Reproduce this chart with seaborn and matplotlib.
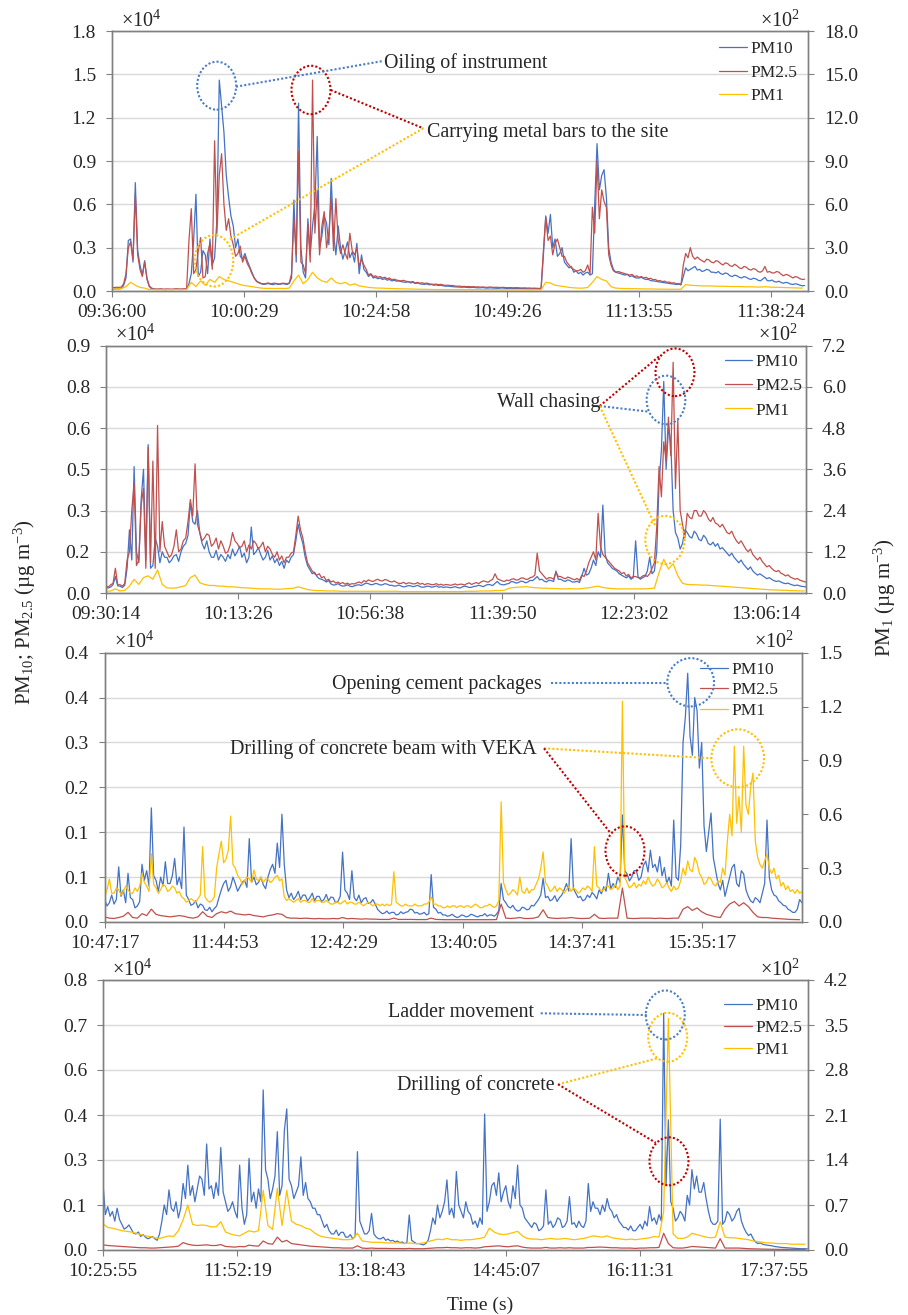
import numpy as np
import matplotlib
matplotlib.use("Agg")
import matplotlib.pyplot as plt
from matplotlib.patches import Ellipse
from matplotlib.lines import Line2D
import seaborn as sns

# ---------------------------------------------------------------- data
series_names = ["PM10", "PM2.5", "PM1"]

# Panel 1 (record length in seconds; each series is evenly sampled over it)
p1_start = "09:36:00"
p1_record = 7748
p1_xticks = ["09:36:00", "10:00:29", "10:24:58", "10:49:26", "11:13:55", "11:38:24"]
p1_left_max = 18000
p1_left_labels = ["0.0", "0.3", "0.6", "0.9", "1.2", "1.5", "1.8"]
p1_right_max = 1800
p1_right_labels = ["0.0", "3.0", "6.0", "9.0", "12.0", "15.0", "18.0"]
p1_pm10 = [150, 140, 160, 150, 170, 400, 900, 3500, 3600, 2000, 7500, 2800, 1800, 1100, 2100, 800, 300, 150,
           120, 100, 110, 120, 100, 90, 110, 100, 100, 110, 120, 100, 110, 120, 130, 500,
           1200, 3500, 6700, 1000, 1300, 2800, 2500, 1200, 3600, 1800, 2300, 5000, 14600, 12800, 11000, 8000,
           6500, 5200, 4500, 3000, 3600, 2400, 2200, 2600, 2100, 1700, 1300, 900, 700, 560, 500, 460,
           480, 520, 470, 440, 500, 470, 460, 510, 490, 450, 520, 900,
           6300, 2000, 13000, 3000, 1300, 900, 5000, 2500, 4500, 6000, 10700, 3000, 3800, 5200, 4700, 3200,
           7800, 4000, 2500, 4500, 3000, 2200, 2800, 3400, 2300, 2700, 2000, 3300, 1200, 2500, 1500, 1300,
           1000, 1150,
           900, 950, 850, 900, 800, 850, 750, 800, 700, 740, 680, 700, 650, 620, 600, 640, 560, 600,
           520, 550, 500, 470, 460, 490, 430, 450, 400, 420, 380, 400, 360, 330, 340, 320, 300, 290,
           280, 270, 260, 270, 250, 240, 240, 250, 230, 220, 220, 240, 210, 200, 220, 210, 200, 190,
           190, 210, 200, 180, 180, 190, 170, 180, 180, 170, 170, 160, 160, 150, 150, 160, 150, 140,
           140, 2500,
           5200, 4000, 5300, 3000, 3600, 2400, 2600, 3000, 2000, 1800, 1600, 1700, 1300, 1400, 1200, 1300,
           1100, 1250, 1300, 1100, 1200, 6000, 10200, 7000, 8000, 8400, 6500, 3000, 2000, 1500, 1300, 1250,
           1200, 1150, 1100, 1150, 1000, 1050, 950, 900, 900, 950, 850, 800, 800, 720, 700, 680,
           650, 620, 600, 570, 550, 520, 500, 480, 450, 470, 420, 1000,
           1600, 1400, 1500, 1600, 1700, 1450,
           1500, 1350, 1400, 1500, 1450, 1300, 1300, 1250, 1350, 1200, 1150, 1250, 1200, 1050, 1000, 1100,
           1050, 950, 900, 1000, 950, 850, 800, 880, 850, 750, 700, 820, 950, 720, 700, 760,
           650, 620, 680, 580, 540, 600, 560, 480, 450, 500, 470, 400, 360, 380]
p1_pm25 = [250, 240, 260, 250, 270, 500, 1200, 3000, 3400, 2200, 6700, 2500, 1500, 1000, 2000, 900, 350, 200,
           150, 140, 140, 150, 130, 140, 140, 130, 130, 150, 150, 140, 140, 150, 160, 3500,
           5700, 1200, 1500, 2800, 3700, 900, 1000, 2600, 3300, 1500, 10400, 4000, 8000, 9500, 6000, 4200,
           5000, 3800, 3200, 2400, 2600, 3100, 2000, 2400, 1900, 1600, 1200, 900, 650, 600, 520, 500,
           520, 560, 500, 530, 540, 500, 490, 540, 530, 500, 560, 1200,
           5000, 2500, 9700, 2000, 1800, 1200, 4600, 2000, 14600, 4000, 7000, 2500, 4500, 5500, 3000, 4000,
           6500, 2800, 6400, 3500, 2600, 3200, 2600, 2200, 4000, 2800, 2500, 3000, 1700, 2200, 1800, 1500,
           1100, 1200,
           1000, 1050, 950, 1000, 900, 950, 850, 900, 780, 820, 760, 720, 700, 740, 680, 650, 620, 660,
           560, 600, 540, 570, 520, 550, 500, 470, 460, 480, 440, 460, 420, 390, 400, 380, 380, 350,
           330, 340, 310, 320, 300, 310, 290, 300, 280, 290, 270, 280, 260, 250, 280, 260, 250, 260,
           240, 250, 250, 230, 230, 240, 220, 230, 230, 210, 210, 220, 200, 210, 190, 200, 190, 180,
           180, 2800,
           5100, 3500, 3800, 2500, 3300, 3600, 3000, 2400, 2400, 2000, 1800, 1600, 1500, 1400, 1400, 1500,
           1300, 1400, 1800, 1200, 5800, 4000, 9000, 5000, 7000, 6200, 5800, 2500, 1800, 1400, 1300, 1350,
           1300, 1250, 1200, 1150, 1100, 1150, 1000, 1050, 950, 1000, 900, 950, 850, 880, 780, 800,
           700, 720, 650, 680, 600, 620, 550, 570, 500, 520, 450, 1800,
           2600, 2300, 3000, 2400, 2200, 2350,
           2200, 2100, 2000, 2200, 2150, 2000, 1950, 2100, 2050, 1900, 1800, 1950, 1900, 1750, 1700, 1850,
           1750, 1600, 1550, 1700, 1650, 1500, 1450, 1550, 1500, 1350, 1300, 1400, 1700, 1300, 1350, 1250,
           1250, 1350, 1300, 1150, 1050, 1150, 1100, 1000, 900, 1000, 950, 850, 800, 820]
p1_pm1 = [15, 15, 16, 30, 60, 40, 25, 20, 10,
          10, 9, 9, 10, 9, 10, 9, 10,
          60, 30, 70, 40, 80, 60, 100, 80, 70, 60, 50, 40, 35, 30, 25, 20,
          18, 18, 17, 18, 17, 20,
          70, 110, 50, 80, 130, 90, 70, 60, 90, 60, 50, 60, 40, 50, 35, 30, 25,
          22, 20, 20, 18, 17, 16, 15, 15, 14, 13, 12, 12, 11, 10, 10, 10, 10, 10,
          10, 10, 9, 9, 9, 9, 9, 9, 9, 8, 8, 8, 8, 8, 8, 8, 8, 8, 8,
          60, 55, 40, 35, 30, 25, 22, 20, 20, 25, 60, 100, 80, 70, 30, 20,
          18, 17, 16, 16, 15, 15, 14, 14, 13, 13, 12, 12, 12, 12,
          45, 40, 38,
          36, 35, 35, 34, 33, 33, 32, 31, 31, 30, 29, 29, 28, 27, 30, 27, 26, 25, 24, 23, 22, 21, 20]

# Panel 2
p2_start = "09:30:14"
p2_record = 13800
p2_xticks = ["09:30:14", "10:13:26", "10:56:38", "11:39:50", "12:23:02", "13:06:14"]
p2_left_max = 9000
p2_left_labels = ["0.0", "0.2", "0.3", "0.5", "0.6", "0.8", "0.9"]
p2_right_max = 720
p2_right_labels = ["0.0", "1.2", "2.4", "3.6", "4.8", "6.0", "7.2"]
p2_pm10 = [200, 180, 220, 300, 600, 260, 250, 200, 280, 900,
           2300, 1200, 4600, 1500, 1100, 3400, 4500, 1200, 5400, 900, 1000, 2000, 1700, 1100, 1500, 1300,
           1300, 1100, 1200, 1350, 1400, 1150, 1500, 1700, 1800, 2100,
           3300, 2600, 2500, 3000, 2200, 1800,
           1600, 1900, 1500, 1300, 1300, 1550, 1200, 1400, 1300, 1150, 1400, 1250, 1600, 1350, 1500, 1700,
           1300, 1450, 1100, 1300,
           2400, 1400, 1500, 1650, 1400, 1200, 1300, 1550, 1200, 1350, 1100, 1250, 1000, 1150, 900, 1200,
           1100, 1300, 1400, 1900,
           2500, 2100, 1800, 1300, 1000, 850, 700, 760, 600, 520, 500, 460, 400, 450,
           330, 290, 300, 340, 280, 250, 260, 300, 250, 230, 260, 290, 300, 270, 320, 360, 340, 300,
           310, 350, 330, 290, 300, 340, 320, 280, 280, 250, 260, 290, 250, 220, 240, 270, 260, 230,
           250, 280, 230, 210, 220, 250, 240, 210, 230, 260, 210, 230, 200, 220, 210, 190,
           210, 230, 200, 180, 220, 250, 230, 200, 210, 240, 250, 280, 260, 230, 280, 310, 300, 270,
           350, 420, 330, 300, 300, 330,
           350, 420, 400, 360, 380, 430, 420, 370, 400, 460, 450, 520,
           600, 480, 500, 430,
           400, 470, 450, 420, 800, 500, 500, 450, 420, 480, 450, 400, 400, 430, 380, 600,
           900, 650, 700, 900, 1200, 1000, 1500, 1300, 3200, 1400, 1100, 1000, 900, 850, 800, 700,
           650, 600, 550, 620, 500, 560, 1900, 600, 500, 560, 600, 800, 1300, 700, 800, 1500,
           4000, 5200, 7700, 4500, 6000, 5500, 3000, 2200, 2000, 1600, 1800, 2300,
           2200, 2050, 2000, 2250, 2150, 1950, 1900, 2100, 2000, 1800, 1750, 1850, 1700, 1800, 1600, 1650,
           1550, 1450, 1350, 1450, 1300, 1200, 1100, 1200, 1050, 950, 850, 950, 800, 720, 650, 700,
           640, 580, 520, 560, 500, 450, 420, 440, 400, 360, 340, 360, 320, 290, 270, 290, 260, 240,
           230, 220]
p2_pm25 = [250, 220, 300, 350, 900, 300, 300, 250, 350, 1200,
           1500, 3000, 4000, 1000, 1200, 3200, 3800, 900, 5300, 1100, 4800, 900, 6100, 1500, 2600, 1700,
           1500, 1300, 1400, 1700, 2300, 1500, 1600, 1900, 2000, 2600,
           3400, 2800, 4700, 2500, 2200, 1900,
           2000, 2150, 2100, 1700, 1800, 2000, 1600, 1900, 1700, 1450, 1500, 1750, 2200, 1900, 1800, 1650,
           1700, 1900, 1500, 1750,
           1600, 1900, 1800, 1600, 1700, 1850, 1500, 1700, 1600, 1400, 1300, 1500, 1200, 1350, 1100, 1300,
           1300, 1450, 1500, 2100,
           2800, 2300, 2000, 1500, 1100, 950, 800, 700, 650, 700, 550, 600, 450, 500,
           400, 440, 360, 400, 340, 380, 320, 360, 310, 340, 330, 370, 400, 360, 450, 410, 480, 440,
           420, 470, 500, 450, 440, 490, 470, 420, 400, 440, 380, 350, 350, 390, 330, 370, 360, 330,
           340, 380, 320, 350, 300, 340, 330, 300, 310, 340, 290, 320, 280, 310, 300, 280,
           300, 330, 290, 320, 320, 290, 340, 370, 310, 350, 380, 340, 400, 440, 420, 390, 450, 500,
           700, 520, 480, 440, 420, 470,
           450, 500, 520, 470, 480, 540, 550, 500, 500, 560, 580, 650,
           1450, 800, 700, 600,
           500, 560, 550, 500, 750, 600, 600, 550, 520, 580, 550, 510, 480, 530, 460, 650,
           600, 800, 1100, 1300, 1500, 1200, 2900, 1700, 1400, 1300, 1200, 1100, 1000, 900, 850, 800,
           700, 750, 620, 680, 550, 600, 600, 560, 550, 620, 650, 600, 700, 900, 1100, 2400,
           4600, 3500, 5500, 4800, 6400, 5000, 8400, 3800, 6300, 3000, 2500, 2000,
           2900, 2750, 2700, 3000, 3000, 2800, 2800, 3000, 2900, 2700, 2600, 2750, 2550, 2500, 2400, 2500,
           2350, 2200, 2150, 2250, 2050, 1900, 1800, 1900, 1750, 1600, 1500, 1600, 1400, 1300, 1200, 1300,
           1150, 1050, 950, 1000, 900, 820, 780, 820, 720, 680, 620, 660, 580, 540, 500, 530, 470, 440,
           410, 400]
p2_pm1 = [5, 6, 12, 6, 8,
          20, 40, 25, 45, 50, 40, 67, 25,
          15, 14, 15, 18, 22,
          45, 52, 30,
          25, 22, 22, 20, 20, 18, 18, 17, 15, 15,
          14, 13, 12, 12, 12, 11, 11, 12, 13, 14,
          18, 14, 10,
          8, 7, 7, 6, 6, 6, 5, 5, 5, 5, 5, 5, 5, 5, 5, 5, 5, 5, 5, 4, 4, 4, 4, 4, 4, 4, 4, 4, 4, 4,
          4, 4, 4, 5, 5, 5, 6, 6, 6, 7, 7, 8,
          14, 16, 17, 18, 18, 16,
          15, 14, 14, 13, 13, 12, 12, 13, 12, 12, 14, 15,
          18, 20, 16, 14, 13, 12, 12, 12, 12, 12, 12, 12, 13, 14,
          60, 98, 70, 85, 50,
          28, 25, 24, 24, 23, 23, 22, 21, 20, 19, 18, 17, 16, 15, 14, 13, 12, 11, 10, 9, 9, 8, 8, 7, 7, 6, 6]

# Panel 3
p3_start = "10:47:17"
p3_record = 20250
p3_xticks = ["10:47:17", "11:44:53", "12:42:29", "13:40:05", "14:37:41", "15:35:17"]
p3_left_max = 4200
p3_left_labels = ["0.0", "0.1", "0.1", "0.2", "0.3", "0.4", "0.4"]
p3_right_max = 150
p3_right_labels = ["0.0", "0.3", "0.6", "0.9", "1.2", "1.5"]
p3_pm10 = [350, 250, 300, 420, 280, 350, 860, 400, 500, 300,
           760, 380, 350, 220, 250, 320, 900, 650, 800, 560,
           1780, 720, 650, 480, 700, 560, 940, 600, 600, 720,
           990, 580, 700, 520, 1480, 420, 350, 260, 280, 330,
           220, 280, 260, 190, 180, 230, 160, 210, 250, 380,
           500, 600, 650, 480, 550, 700, 600, 480, 550, 620,
           650, 540, 1300, 620, 700, 580, 620, 700, 580, 520,
           700, 820, 900, 760, 1230, 850, 1680, 900, 500, 380,
           450, 350, 400, 480, 350, 420, 420, 330, 380, 450,
           330, 400, 400, 320, 350, 430, 330, 390, 380, 300,
           320, 400, 1090, 500, 450, 350, 800, 380, 330, 420,
           300, 360, 380, 290, 300, 350, 280, 200, 160, 130,
           140, 170, 130, 150, 150, 110, 120, 160, 130, 150,
           160, 200, 190, 140, 150, 120, 130, 150, 110, 130,
           740, 230, 200, 140, 150, 110, 110, 90, 100, 120,
           90, 70, 80, 110, 100, 80, 90, 120, 110, 90,
           80, 100, 100, 130, 90, 110, 110, 90, 120, 180,
           600, 350, 300, 240, 220, 260, 200, 170, 180, 230,
           220, 190, 200, 260, 250, 300, 350, 420, 680, 380,
           400, 330, 350, 410, 320, 380, 420, 500, 600, 480,
           1300, 520, 450, 380, 400, 330, 350, 420, 380, 460,
           420, 360, 500, 440, 550, 480, 760, 520, 600, 540,
           700, 620, 1670, 800, 750, 640, 700, 800, 800, 650,
           700, 880, 950, 780, 1120, 850, 900, 780, 1020, 720,
           850, 600, 700, 560, 1590, 700, 650, 1200, 2800, 3200,
           3880, 2900, 2600, 3500, 3300, 2400, 2800, 1500, 1100, 1400,
           1700, 1000, 800, 600, 500, 650, 400, 550, 700, 850,
           900, 600, 550, 800, 750, 500, 400, 330, 300, 380,
           350, 300, 450, 600, 1590, 700, 500, 420, 400, 330,
           300, 260, 250, 200, 180, 150, 150, 200, 350, 300]
p3_pm25 = [80, 60, 55, 70, 90, 150, 70, 60, 130, 100,
           200, 120, 100, 90, 80, 90, 100, 90, 70, 60,
           80, 160, 90, 70, 130, 160, 140, 170, 130, 120,
           110, 120, 100, 90, 80, 100, 110, 130, 120, 70,
           60, 60, 55, 60, 55, 50, 55, 50, 50, 55,
           50, 70, 50, 55, 50, 45, 50, 45, 45, 40,
           40, 40, 60, 40, 40, 40, 40, 38, 38, 38,
           60, 40, 38, 36, 36, 36, 35, 36, 35, 36,
           35, 36, 35, 36, 38, 280, 60, 55, 60, 70,
           55, 55, 60, 80, 190, 70, 60, 55, 60, 60,
           70, 60, 55, 55, 60, 120, 60, 55, 60, 60,
           60, 530, 60, 55, 55, 60, 60, 60, 55, 60,
           55, 55, 60, 60, 200, 240, 180, 220, 160, 120,
           100, 80, 70, 200, 280, 320, 250, 300, 240, 150,
           80, 70, 70, 60, 55, 50, 45, 40, 38, 36]
p3_pm1 = [14, 18, 24, 16, 16, 19, 18, 15, 17, 20,
          18, 16, 16, 19, 17, 20, 27, 22, 20, 17,
          38, 21, 19, 16, 18, 21, 20, 17, 18, 20,
          19, 16, 17, 14, 13, 11, 12, 13, 12, 11,
          13, 15, 42, 14, 12, 11, 12, 14, 30, 38,
          45, 33, 35, 40, 59, 32, 30, 26, 24, 21,
          23, 25, 24, 22, 29, 24, 23, 25, 22, 24,
          24, 22, 23, 25, 26, 23, 24, 14, 12, 13,
          12, 11, 12, 13, 11, 12, 12, 11, 11, 13,
          11, 12, 12, 11, 11, 12, 11, 10, 10, 11,
          11, 10, 11, 12, 10, 11, 11, 10, 10, 11,
          10, 9, 10, 11, 10, 9, 10, 10, 9, 10,
          9, 10, 9, 10, 28, 11, 10, 9, 9, 10,
          9, 9, 9, 10, 9, 9, 9, 10, 10, 11,
          14, 10, 10, 9, 9, 8, 8, 9, 8, 9,
          9, 8, 9, 9, 8, 9, 9, 8, 9, 10,
          9, 8, 8, 9, 9, 10, 9, 8, 9, 12,
          67, 22, 18, 15, 16, 18, 17, 15, 25, 17,
          16, 19, 16, 18, 18, 21, 24, 30, 39, 22,
          20, 17, 18, 20, 17, 19, 18, 16, 18, 20,
          17, 19, 18, 16, 17, 19, 18, 20, 19, 17,
          42, 20, 19, 17, 18, 20, 20, 18, 19, 21,
          18, 20, 123, 25, 22, 19, 20, 22, 19, 21,
          20, 23, 21, 25, 22, 20, 21, 24, 22, 19,
          20, 22, 19, 17, 20, 18, 19, 23, 30, 26,
          34, 29, 28, 36, 33, 27, 25, 21, 22, 25,
          24, 21, 20, 23, 22, 30, 26, 45, 60, 48,
          98, 55, 70, 50, 98, 65, 60, 75, 83, 45,
          36, 32, 30, 34, 38, 30, 27, 30, 24, 26,
          20, 22, 18, 20, 17, 18, 16, 18, 16, 17]

# Panel 4
p4_start = "10:25:55"
p4_record = 27300
p4_xticks = ["10:25:55", "11:52:19", "13:18:43", "14:45:07", "16:11:31", "17:37:55"]
p4_left_max = 8400
p4_left_labels = ["0.0", "0.1", "0.3", "0.4", "0.6", "0.7", "0.8"]
p4_right_max = 420
p4_right_labels = ["0.0", "0.7", "1.4", "2.1", "2.8", "3.5", "4.2"]
p4_pm10 = [2070, 1100, 1350, 1050, 1200, 900, 1300, 950, 800, 650,
           700, 780, 650, 520, 500, 560, 420, 480, 400, 350,
           380, 420, 350, 300, 500, 900, 1400, 1100, 1870, 1300,
           1200, 1500, 1000, 1300, 2070, 1600, 2640, 1700, 2000, 1500,
           1900, 2300, 2200, 1700, 3300, 1900, 2000, 1600, 2100, 1700,
           3190, 1800, 1500, 1200, 1300, 1500, 1200, 1000, 2640, 1300,
           800, 1100, 2850, 1500, 1800, 1300, 1900, 1500, 4980, 2500,
           2200, 1600, 1900, 2300, 3680, 1700, 2000, 3730, 4390, 2200,
           2000, 1600, 1800, 2000, 2900, 1700, 2100, 1600, 1500, 1300,
           1300, 1100, 1100, 900, 700, 800, 600, 500, 500, 620,
           450, 550, 550, 400, 400, 480, 350, 420, 3060, 900,
           700, 500, 500, 600, 1140, 500, 400, 350, 350, 400,
           300, 340, 280, 300, 250, 280, 230, 250, 200, 230,
           1090, 300, 250, 200, 200, 180, 160, 200, 300, 600,
           1000, 800, 1400, 1000, 1200, 1500, 2180, 1100, 1300, 1000,
           2440, 1400, 1200, 1000, 1500, 1200, 1100, 800, 900, 700,
           1000, 800, 4230, 1200, 1500, 2000, 2100, 1700, 2400, 1500,
           1800, 2000, 1500, 1300, 2000, 1600, 2640, 1400, 1300, 1000,
           900, 800, 700, 850, 800, 600, 650, 750, 1870, 800,
           900, 700, 800, 1000, 950, 700, 750, 900, 1660, 800,
           850, 700, 900, 750, 700, 900, 2070, 1200, 1500, 1300,
           1300, 1100, 1400, 1200, 1600, 1300, 1200, 1000, 1100, 900,
           800, 700, 700, 620, 750, 600, 600, 700, 800, 650,
           900, 750, 1350, 900, 1000, 800, 1100, 900, 7360, 2000,
           4050, 1500, 1300, 900, 1000, 1200, 1100, 900, 1700, 1400,
           2500, 1900, 2300, 1800, 1800, 2100, 1600, 1200, 900, 800,
           800, 900, 4070, 800, 900, 1200, 1100, 900, 1000, 1200,
           1300, 900, 700, 550, 450, 500, 350, 250, 200, 220,
           180, 160, 150, 140, 130, 110, 100, 90, 80, 75,
           70, 65, 60, 55, 50, 45, 40, 40, 40, 35]
p4_pm25 = [160, 140, 130, 120, 110, 100, 90, 80, 70, 70,
           60, 60, 70, 80, 90, 100, 120, 230, 180, 150,
           140, 150, 160, 140, 140, 170, 110, 100, 90, 110,
           100, 150, 130, 120, 280, 200, 180, 400, 250, 300,
           200, 180, 160, 140, 120, 110, 100, 90, 80, 70,
           70, 60, 60, 60, 130, 60, 50, 60, 50, 50,
           50, 45, 45, 45, 40, 50, 40, 40, 40, 50,
           60, 70, 70, 80, 70, 70, 60, 70, 70, 60,
           70, 100, 110, 120, 130, 110, 100, 120, 130, 90,
           70, 60, 60, 60, 80, 60, 60, 70, 60, 70,
           60, 60, 60, 80, 80, 90, 90, 80, 70, 70,
           60, 60, 60, 50, 60, 60, 70, 70, 80, 520,
           200, 70, 60, 60, 80, 110, 100, 90, 80, 70,
           60, 350, 60, 60, 60, 60, 50, 40, 35, 30,
           28, 25, 22, 20, 20, 18, 18, 16, 15, 15]
p4_pm1 = [41, 35, 34, 32, 30, 29, 28, 26, 24, 22,
          21, 19, 18, 20, 22, 21, 30, 47, 70, 40,
          38, 39, 38, 36, 36, 44, 28, 25, 23, 22,
          26, 30, 28, 30, 93, 38, 32, 96, 38, 93,
          45, 40, 38, 34, 32, 26, 22, 20, 19, 18,
          17, 16, 16, 17, 26, 14, 13, 12, 12, 12,
          11, 11, 11, 11, 10, 11, 10, 10, 11, 13,
          15, 17, 16, 18, 16, 16, 15, 16, 16, 17,
          18, 20, 34, 28, 25, 24, 25, 27, 29, 22,
          18, 17, 17, 16, 17, 18, 17, 17, 18, 17,
          16, 17, 18, 20, 22, 21, 20, 22, 19, 18,
          17, 16, 17, 16, 17, 18, 19, 21, 20, 60,
          360, 25, 18, 18, 20, 26, 24, 22, 20, 19,
          20, 44, 20, 19, 19, 18, 17, 16, 14, 13,
          12, 11, 11, 10, 10, 10, 9, 9, 9, 9]

# ---------------------------------------------------------------- style
sns.set_theme(style="ticks")
plt.rcParams["font.family"] = ["Liberation Serif", "DejaVu Serif"]
plt.rcParams["mathtext.default"] = "regular"

W, H = 908, 1315
C10, C25, C1 = "#4472C4", "#C0504D", "#FFC000"
SPINE = "#808080"
LW = 0.9
TICK_FS = 14

fig = plt.figure(figsize=(W / 100, H / 100), dpi=100)


def fx(x):
    return x / W


def fy(y):
    return 1 - y / H


def to_sec(s):
    h, m, sec = (int(v) for v in s.split(":"))
    return h * 3600 + m * 60 + sec


def draw_panel(box, start, record, span, pm10, pm25, pm1, xticks,
               lmax, llabels, rmax, rlabels, leg_xy, leg_gap):
    x0, y0, x1, y1 = box
    ax = fig.add_axes([fx(x0), fy(y1), (x1 - x0) / W, (y1 - y0) / H])
    ax2 = ax.twinx()
    t0 = to_sec(start)

    def times(vals):
        return t0 + np.arange(len(vals)) * record / len(vals)

    sns.lineplot(x=times(pm10), y=pm10, ax=ax, color=C10, lw=LW, errorbar=None, label=series_names[0])
    sns.lineplot(x=times(pm25), y=pm25, ax=ax, color=C25, lw=LW, errorbar=None, label=series_names[1])
    sns.lineplot(x=times(pm1), y=pm1, ax=ax2, color=C1, lw=LW, errorbar=None, label=series_names[2])
    for a in (ax, ax2):
        if a.get_legend() is not None:
            a.get_legend().remove()
        a.set_xlabel("")
        a.set_ylabel("")

    ax.set_xlim(t0, t0 + span)
    ax.set_xticks([to_sec(s) for s in xticks])
    ax.set_xticklabels(xticks)
    ax.set_ylim(0, lmax)
    ax.set_yticks(np.linspace(0, lmax, len(llabels)))
    ax.set_yticklabels(llabels)
    ax2.set_ylim(0, rmax)
    ax2.set_yticks(np.linspace(0, rmax, len(rlabels)))
    ax2.set_yticklabels(rlabels)

    ax.grid(axis="y", color="#d9d9d9", lw=1.0)
    ax.grid(axis="x", visible=False)
    ax2.grid(False)
    ax.set_axisbelow(True)
    for a in (ax, ax2):
        for sp in a.spines.values():
            sp.set_color(SPINE)
            sp.set_linewidth(1.0)
    ax.tick_params(axis="x", direction="out", length=4.5, width=0.8, color=SPINE,
                   labelsize=TICK_FS, pad=5, bottom=True, top=False)
    ax.tick_params(axis="y", direction="out", length=4.5, width=0.8, color=SPINE,
                   labelsize=TICK_FS, pad=7, left=True, right=False)
    ax2.tick_params(axis="y", direction="out", length=4.5, width=0.8, color=SPINE,
                    labelsize=TICK_FS, pad=7, right=True, left=False)

    # multipliers for the tick labels
    fig.text(fx(x0 + 9), fy(y0 - 4.5), "\u00d710$^4$", fontsize=14.5, ha="left", va="baseline")
    fig.text(fx(x1 - 48), fy(y0 - 4.5), "\u00d710$^2$", fontsize=14.5, ha="left", va="baseline")

    handles = [ax.lines[0], ax.lines[1], ax2.lines[0]]
    fs = 12.5
    fs_px = fs * 100 / 72
    rowh = 1.15 * fs_px
    ax2.legend(handles, series_names, loc="upper left",
               bbox_to_anchor=(fx(leg_xy[0]), fy(leg_xy[1] - rowh / 2)),
               bbox_transform=fig.transFigure, frameon=False, fontsize=fs,
               handlelength=1.6, handletextpad=0.2,
               labelspacing=(leg_gap - rowh) / fs_px, borderpad=0, borderaxespad=0)
    return ax, ax2


draw_panel((112, 31, 808, 291), p1_start, p1_record, 7760, p1_pm10, p1_pm25, p1_pm1, p1_xticks,
           p1_left_max, p1_left_labels, p1_right_max, p1_right_labels, (719, 51), 27.3)
draw_panel((106, 345.7, 806, 593), p2_start, p2_record, 13740, p2_pm10, p2_pm25, p2_pm1, p2_xticks,
           p2_left_max, p2_left_labels, p2_right_max, p2_right_labels, (724.7, 364), 28)
draw_panel((104.7, 652.7, 802.3, 922), p3_start, p3_record, 20192, p3_pm10, p3_pm25, p3_pm1, p3_xticks,
           p3_left_max, p3_left_labels, p3_right_max, p3_right_labels, (700, 671.7), 24.2)
draw_panel((103, 980, 808, 1250), p4_start, p4_record, 27233, p4_pm10, p4_pm25, p4_pm1, p4_xticks,
           p4_left_max, p4_left_labels, p4_right_max, p4_right_labels, (724, 1008.3), 25.4)

# ---------------------------------------------------------------- event call-outs
BLUE_D, RED_D, YEL_D = "#4A7EC4", "#C00000", "#FFC000"
DOT = (0, (1, 1.0))


def ring(cx, cy, w, h, color):
    fig.add_artist(Ellipse((fx(cx), fy(cy)), w / W, h / H, transform=fig.transFigure,
                           fill=False, ls=DOT, lw=1.5, ec=color))


def leader(xa, ya, xb, yb, color):
    fig.add_artist(Line2D([fx(xa), fx(xb)], [fy(ya), fy(yb)], transform=fig.transFigure,
                          ls=DOT, lw=1.5, color=color))


def note(x, y, s):
    fig.text(fx(x), fy(y), s, fontsize=14.4, ha="left", va="baseline")


# panel 1
ring(216.7, 85.7, 39, 48, BLUE_D)
ring(311, 90, 39, 48.5, RED_D)
ring(214, 260.8, 38.5, 51.5, YEL_D)
leader(236, 86.7, 383, 61, BLUE_D)
leader(330.7, 90, 423.3, 128.3, RED_D)
leader(230, 239.3, 423.3, 128.3, YEL_D)
note(384.3, 68.3, "Oiling of instrument")
note(427.3, 137.3, "Carrying metal bars to the site")

# panel 2
ring(675, 372.3, 39, 47.7, RED_D)
ring(666, 400, 38.7, 48.7, BLUE_D)
ring(665, 540, 39.3, 48.3, YEL_D)
leader(599.7, 406, 660.7, 355, RED_D)
leader(599.7, 406, 649, 411.7, BLUE_D)
leader(599.7, 406, 655.7, 526.7, YEL_D)
note(497.3, 407.3, "Wall chasing")

# panel 3
ring(690.7, 682.3, 46.7, 48.3, BLUE_D)
ring(737.7, 758.3, 52.7, 58, YEL_D)
ring(625, 851, 39, 49.3, RED_D)
leader(550.7, 683.3, 667.3, 683.3, BLUE_D)
leader(544, 748.3, 711.3, 758.3, YEL_D)
leader(544, 748.3, 610.7, 833.3, RED_D)
note(332.3, 689.3, "Opening cement packages")
note(230, 754, "Drilling of concrete beam with VEKA")

# panel 4
ring(665.3, 1015, 39, 49, BLUE_D)
ring(667.7, 1037.3, 39, 49, YEL_D)
ring(669, 1161.3, 39, 48, RED_D)
leader(540.7, 1013.3, 646.7, 1015, BLUE_D)
leader(558, 1084.3, 657.3, 1058.3, YEL_D)
leader(558, 1084.3, 655.7, 1142.7, RED_D)
note(388.3, 1016.7, "Ladder movement")
note(396.7, 1090, "Drilling of concrete")

# ---------------------------------------------------------------- shared axis titles
fig.text(fx(25), fy(612), "PM$_{10}$; PM$_{2.5}$ (\u00b5g m$^{-3}$)", rotation=90,
         fontsize=15, ha="center", va="center")
fig.text(fx(885), fy(598), "PM$_{1}$ (\u00b5g m$^{-3}$)", rotation=90,
         fontsize=15, ha="center", va="center")
fig.text(fx(480), fy(1305), "Time (s)", fontsize=14, ha="center", va="center")

fig.savefig("out.png", dpi=100)
